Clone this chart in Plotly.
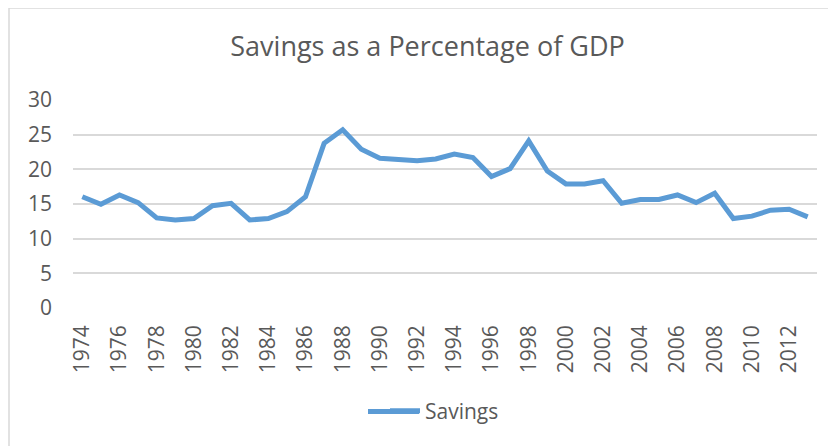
import plotly.graph_objects as go

years = list(range(1974, 2014))
savings = [16.05, 14.95, 16.3, 15.2, 13.0, 12.7, 12.9, 14.75, 15.1, 12.7,
           12.9, 13.9, 16.05, 23.75, 25.7, 22.9, 21.6, 21.5, 21.25, 21.5,
           22.2, 21.7, 18.95, 20.1, 24.1, 19.75, 17.9, 17.9, 18.35, 15.1,
           15.65, 15.65, 16.3, 15.2, 16.55, 12.9, 13.25, 14.1, 14.25, 13.15]
x_tick_years = list(range(1974, 2013, 2))
y_ticks = [0, 5, 10, 15, 20, 25, 30]

W, H = 836, 446
OFF = 8  # page body margin
# plot area in window pixels: x 73..817, y 100..308
L = 73 - OFF
T = 100 - OFF
R = W - (817 - OFF)
B = H - (308 - OFF)
pw, ph = W - L - R, H - T - B

def px_to_paper_x(px):  # window px
    return (px - OFF - L) / pw

def px_to_paper_y(py):
    return (H - B - (py - OFF)) / ph

txt = "#595959"
font = "Open Sans"

fig = go.Figure()
fig.add_trace(go.Scatter(
    x=years, y=savings, mode="lines", name="Savings",
    line=dict(color="#5B9BD5", width=5, shape="linear"),
))

fig.update_layout(
    width=W, height=H,
    margin=dict(l=L, r=R, t=T, b=B),
    paper_bgcolor="white", plot_bgcolor="white",
    title=dict(text="Savings as a Percentage of GDP", x=(427.5 - OFF) / W, xanchor="center",
               xref="container", yref="container", y=1 - (47 - OFF) / H, yanchor="middle",
               font=dict(family=font, size=27, color=txt)),
    font=dict(family=font, color=txt),
    showlegend=True,
    legend=dict(orientation="h", x=px_to_paper_x(385), xanchor="left",
                y=px_to_paper_y(411), yanchor="middle",
                font=dict(family=font, size=21, color=txt),
                bgcolor="rgba(0,0,0,0)"),
    xaxis=dict(range=[1973.5, 2013.5], tickmode="array", tickvals=x_tick_years,
               ticktext=[str(y) for y in x_tick_years], tickangle=-90,
               showgrid=False, zeroline=False, showline=False, ticks="",
               ticklabelstandoff=12,
               tickfont=dict(family=font, size=21, color=txt), fixedrange=True),
    yaxis=dict(range=[0, 30], tickmode="array", tickvals=y_ticks,
               showgrid=True, gridcolor="#d9d9d9", gridwidth=1.5, zeroline=False,
               showline=False, ticks="", ticklabelstandoff=20,
               tickfont=dict(family=font, size=21, color=txt), fixedrange=True),
    shapes=[
        dict(type="rect", xref="paper", yref="paper",
             x0=px_to_paper_x(9), x1=px_to_paper_x(860),
             y0=px_to_paper_y(470), y1=px_to_paper_y(8),
             line=dict(color="#d9d9d9", width=1.5), fillcolor="rgba(0,0,0,0)",
             layer="below"),
        dict(type="line", xref="paper", yref="paper",
             x0=px_to_paper_x(368), x1=px_to_paper_x(419),
             y0=px_to_paper_y(411.5), y1=px_to_paper_y(411.5),
             line=dict(color="#5B9BD5", width=5)),
    ],
)

fig.write_html("out.html")
